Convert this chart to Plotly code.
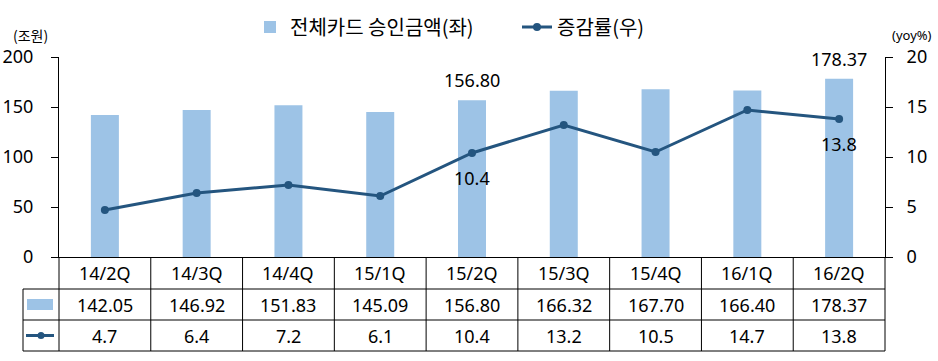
import plotly.graph_objects as go

categories = ["14/2Q", "14/3Q", "14/4Q", "15/1Q", "15/2Q", "15/3Q", "15/4Q", "16/1Q", "16/2Q"]
approval_amount = [142.05, 146.92, 151.83, 145.09, 156.80, 166.32, 167.70, 166.40, 178.37]
growth_rate = [4.7, 6.4, 7.2, 6.1, 10.4, 13.2, 10.5, 14.7, 13.8]
bar_label_idx = [4, 8]
line_label_idx = [4, 8]
left_ticks = [0, 50, 100, 150, 200]
right_ticks = [0, 5, 10, 15, 20]

BAR_NAME = "전체카드 승인금액(좌)"
LINE_NAME = "증감률(우)"
BAR_COLOR = "#9DC3E6"
LINE_COLOR = "#24557F"
KFONT = "Noto Sans CJK KR, Noto Sans, sans-serif"
NFONT = "Noto Sans, DejaVu Sans, sans-serif"

# figure geometry (pixels)
W, H = 938, 361
ML, MR, MT, MB = 59, 53, 57, 104
PW = W - ML - MR
PH = H - MT - MB


def py(px):  # pixel y -> paper y
    return (H - MB - px) / PH


def pxx(px):  # pixel x -> paper x
    return (px - ML) / PW


fig = go.Figure()
fig.add_trace(go.Bar(
    x=categories, y=approval_amount, name=BAR_NAME,
    marker=dict(color=BAR_COLOR, line=dict(width=0)),
    width=0.305,
))
fig.add_trace(go.Scatter(
    x=categories, y=growth_rate, name=LINE_NAME, yaxis="y2",
    mode="lines+markers",
    line=dict(color=LINE_COLOR, width=3),
    marker=dict(color=LINE_COLOR, size=8),
))

annotations = []
# data labels
for i in bar_label_idx:
    annotations.append(dict(
        x=categories[i], y=approval_amount[i], xref="x", yref="y",
        text=f"{approval_amount[i]:.2f}", showarrow=False,
        yanchor="bottom", yshift=6,
        font=dict(family=NFONT, size=18, color="#000000"),
    ))
for i in line_label_idx:
    annotations.append(dict(
        x=categories[i], y=growth_rate[i], xref="x", yref="y2",
        text=f"{growth_rate[i]:.1f}", showarrow=False,
        yanchor="top", yshift=-11,
        font=dict(family=NFONT, size=18, color="#000000"),
    ))

# data table text
row_centers = [py(273), py(304.5), py(335.5)]
for i, c in enumerate(categories):
    annotations.append(dict(x=c, y=row_centers[0], xref="x", yref="paper", text=c,
                            showarrow=False, yanchor="middle",
                            font=dict(family=NFONT, size=18, color="#000000")))
    annotations.append(dict(x=c, y=row_centers[1], xref="x", yref="paper",
                            text=f"{approval_amount[i]:.2f}", showarrow=False, yanchor="middle",
                            font=dict(family=NFONT, size=18, color="#000000")))
    annotations.append(dict(x=c, y=row_centers[2], xref="x", yref="paper",
                            text=f"{growth_rate[i]:.1f}", showarrow=False, yanchor="middle",
                            font=dict(family=NFONT, size=18, color="#000000")))

# unit labels
annotations.append(dict(x=pxx(30), y=py(35), xref="paper", yref="paper", text="(조원)",
                        showarrow=False, xanchor="center", yanchor="middle",
                        font=dict(family=KFONT, size=14, color="#000000")))
annotations.append(dict(x=pxx(912), y=py(35), xref="paper", yref="paper", text="(yoy%)",
                        showarrow=False, xanchor="center", yanchor="middle",
                        font=dict(family=NFONT, size=13, color="#000000")))

shapes = []
line_style = dict(color="#000000", width=1)
n = len(categories)
# horizontal table lines
for ypx in [289, 320, 351]:
    shapes.append(dict(type="line", xref="paper", yref="paper",
                       x0=pxx(23), x1=1, y0=py(ypx), y1=py(ypx), line=line_style))
# vertical table lines at category boundaries
for k in range(n + 1):
    shapes.append(dict(type="line", xref="paper", yref="paper",
                       x0=k / n, x1=k / n, y0=0, y1=py(351), line=line_style))
shapes.append(dict(type="line", xref="paper", yref="paper",
                   x0=pxx(23), x1=pxx(23), y0=py(289), y1=py(351), line=line_style))
# header icons
shapes.append(dict(type="rect", xref="paper", yref="paper",
                   x0=pxx(27), x1=pxx(53), y0=py(299), y1=py(310),
                   fillcolor=BAR_COLOR, line=dict(width=0)))
shapes.append(dict(type="line", xref="paper", yref="paper",
                   x0=pxx(26), x1=pxx(54), y0=py(335.5), y1=py(335.5),
                   line=dict(color=LINE_COLOR, width=3)))
shapes.append(dict(type="circle", xref="paper", yref="paper",
                   x0=pxx(37.5), x1=pxx(44.5), y0=py(339), y1=py(332),
                   fillcolor=LINE_COLOR, line=dict(width=0)))

fig.update_layout(
    width=W, height=H,
    margin=dict(l=ML, r=MR, t=MT, b=MB, pad=0, autoexpand=False),
    paper_bgcolor="#FFFFFF", plot_bgcolor="#FFFFFF",
    bargap=0.7,
    showlegend=True,
    legend=dict(
        orientation="h", x=pxx(250), xanchor="left", y=py(27), yanchor="middle",
        font=dict(family=KFONT, size=20, color="#000000"),
        bgcolor="rgba(0,0,0,0)",
        entrywidth=222, entrywidthmode="pixels",
    ),
    xaxis=dict(
        type="category", range=[-0.5, n - 0.5], automargin=False,
        showticklabels=False, ticks="", showgrid=False,
        showline=True, linecolor="#000000", linewidth=1, zeroline=False,
    ),
    yaxis=dict(
        range=[0, 200], tickvals=left_ticks, showgrid=False, zeroline=False,
        automargin=False,
        showline=True, linecolor="#000000", linewidth=1,
        ticks="outside", ticklen=7, tickcolor="#000000",
        ticklabelstandoff=14,
        tickfont=dict(family=NFONT, size=18, color="#000000"),
    ),
    yaxis2=dict(
        range=[0, 20], tickvals=right_ticks, overlaying="y", side="right",
        showgrid=False, zeroline=False, automargin=False,
        showline=True, linecolor="#000000", linewidth=1,
        ticks="outside", ticklen=7, tickcolor="#000000",
        ticklabelstandoff=10,
        tickfont=dict(family=NFONT, size=18, color="#000000"),
    ),
    annotations=annotations,
    shapes=shapes,
)

fig.write_html("out.html", config={"displayModeBar": False},
               post_script="document.body.style.margin='0';")
